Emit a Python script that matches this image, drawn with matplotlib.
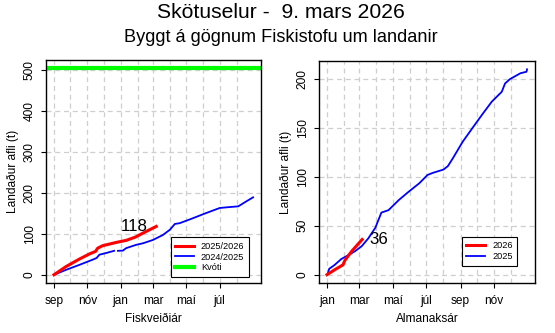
import matplotlib
matplotlib.use('Agg')
import matplotlib.pyplot as plt

plt.rcParams['font.family'] = ['Liberation Sans', 'DejaVu Sans']

# Fiskveiðiár: dagar frá 1. sept
dagar_2526 = [0, 22, 46, 65, 76, 80, 89, 114, 132, 149, 163, 187]
afli_2526 = [0, 20, 38, 51, 57, 65, 71, 79, 84, 92, 102, 118]

dagar_2425 = [0, 22, 46, 71, 78, 83, 95, 110, 111, 117, 126, 132, 150, 163, 181,
              199, 212, 221, 230, 254, 273, 303, 319, 337, 349, 364]
afli_2425 = [0, 12, 24, 37, 41, 49, 53, 58.5, None, 58.5, 59, 65, 73, 77, 85,
             97, 110, 124, 126, 138, 148, 163, 165, 167, 177, 189]

kvoti = 504

# Almanaksár: dagar frá 1. jan
dagar_2026 = [0, 14, 29, 33, 45, 64]
afli_2026 = [0, 5, 10, 15, 24, 36]

dagar_2025 = [2, 4, 14, 26, 39, 51, 63, 75, 88, 99, 112, 131, 149, 168, 183, 192,
              212, 220, 229, 247, 266, 284, 300, 318, 324, 333, 352, 363, 364]
afli_2025 = [2, 6, 10, 16, 20, 24, 29, 37, 48, 63.5, 66, 76.5, 85, 93.5, 102, 104,
             107.5, 111, 119, 136, 151, 165, 177, 187, 195.5, 200, 206, 207.5, 210]

man_fisk = ['sep', 'okt', 'nóv', 'des', 'jan', 'feb', 'mar', 'apr', 'maí', 'jún', 'júl', 'ágú']
dagar_fisk = [30, 31, 30, 31, 31, 28, 31, 30, 31, 30, 31, 31]
man_alm = ['jan', 'feb', 'mar', 'apr', 'maí', 'jún', 'júl', 'ágú', 'sep', 'okt', 'nóv', 'des']
dagar_alm = [31, 28, 31, 30, 31, 30, 31, 31, 30, 31, 30, 31]


def manadabyrjun(lengdir):
    pos = [0]
    for d in lengdir[:-1]:
        pos.append(pos[-1] + d)
    return pos


def nan(v):
    return [float('nan') if x is None else x for x in v]


def stilla_as(ax, man, lengdir, yticks, ylim):
    pos = manadabyrjun(lengdir)
    ax.set_xlim(-14.5, 378.5)
    ax.set_ylim(*ylim)
    for p in pos:
        ax.axvline(p, color='#CFCFCF', lw=0.9, ls=(0, (4, 3)), zorder=0)
    for y in yticks:
        ax.axhline(y, color='#CFCFCF', lw=0.9, ls=(0, (4, 3)), zorder=0)
    ax.set_xticks(pos[::2])
    ax.set_xticklabels(man[::2])
    ax.set_yticks(yticks)
    ax.tick_params(axis='both', labelsize=8.6, length=3.5, width=0.8, direction='out')
    ax.tick_params(axis='x', pad=5)
    ax.tick_params(axis='y', pad=4, labelrotation=90)
    for lbl in ax.get_yticklabels():
        lbl.set_va('center')
    for s in ax.spines.values():
        s.set_linewidth(1.0)
    ax.set_ylabel('Landaður afli (t)', fontsize=8.6)
    ax.yaxis.set_label_coords(-0.155, 0.5)
    ax.yaxis.label.set_va('center')
    ax.xaxis.set_label_coords(0.5, -0.135)
    ax.xaxis.label.set_va('top')


fig = plt.figure(figsize=(5.55, 3.33), dpi=100)
ax1 = fig.add_axes([46 / 555, 50 / 333, 215 / 555, 223 / 333])
ax2 = fig.add_axes([319 / 555, 50 / 333, 216 / 555, 222 / 333])

fig.text(281 / 555, 1 - 12 / 333, 'Skötuselur -  9. mars 2026', ha='center', va='center', fontsize=15.2)
fig.text(281 / 555, 1 - 37 / 333, 'Byggt á gögnum Fiskistofu um landanir', ha='center', va='center', fontsize=13.1)

# vinstri: fiskveiðiár
ax1.plot(dagar_2526, afli_2526, color='#FF0000', lw=2.2, label='2025/2026', zorder=3)
ax1.plot(dagar_2425, nan(afli_2425), color='#0000FF', lw=1.3, label='2024/2025', zorder=2)
ax1.axhline(kvoti, color='#00FF00', lw=3, label='Kvóti', zorder=2)
ax1.annotate(str(afli_2526[-1]), (dagar_2526[-1], afli_2526[-1]), xytext=(-6, 0),
             textcoords='offset points', ha='right', va='center', fontsize=12.2)
stilla_as(ax1, man_fisk, dagar_fisk, [0, 100, 200, 300, 400, 500], (-20, 524))
ax1.set_xlabel('Fiskveiðiár', fontsize=8.6)
ax1.legend(loc='lower right', bbox_to_anchor=(0.944, 0.027), borderaxespad=0, fontsize=6.6,
           fancybox=False, edgecolor='black', framealpha=1, handlelength=2.0,
           handletextpad=0.8, labelspacing=0.2, borderpad=0.5).get_frame().set_linewidth(0.8)

# hægri: almanaksár
ax2.plot(dagar_2026, afli_2026, color='#FF0000', lw=2.2, label='2026', zorder=3)
ax2.plot(dagar_2025, afli_2025, color='#0000FF', lw=1.3, label='2025', zorder=2)
ax2.annotate(str(afli_2026[-1]), (dagar_2026[-1], afli_2026[-1]), xytext=(5.5, 0),
             textcoords='offset points', ha='left', va='center', fontsize=12.2)
stilla_as(ax2, man_alm, dagar_alm, [0, 50, 100, 150, 200], (-8.5, 218.5))
ax2.set_xlabel('Almanaksár', fontsize=8.6)
ax2.legend(loc='lower right', bbox_to_anchor=(0.917, 0.077), borderaxespad=0, fontsize=6.6,
           fancybox=False, edgecolor='black', framealpha=1, handlelength=2.0,
           handletextpad=0.8, labelspacing=0.2, borderpad=0.5).get_frame().set_linewidth(0.8)

fig.savefig('out.png', dpi=100)
